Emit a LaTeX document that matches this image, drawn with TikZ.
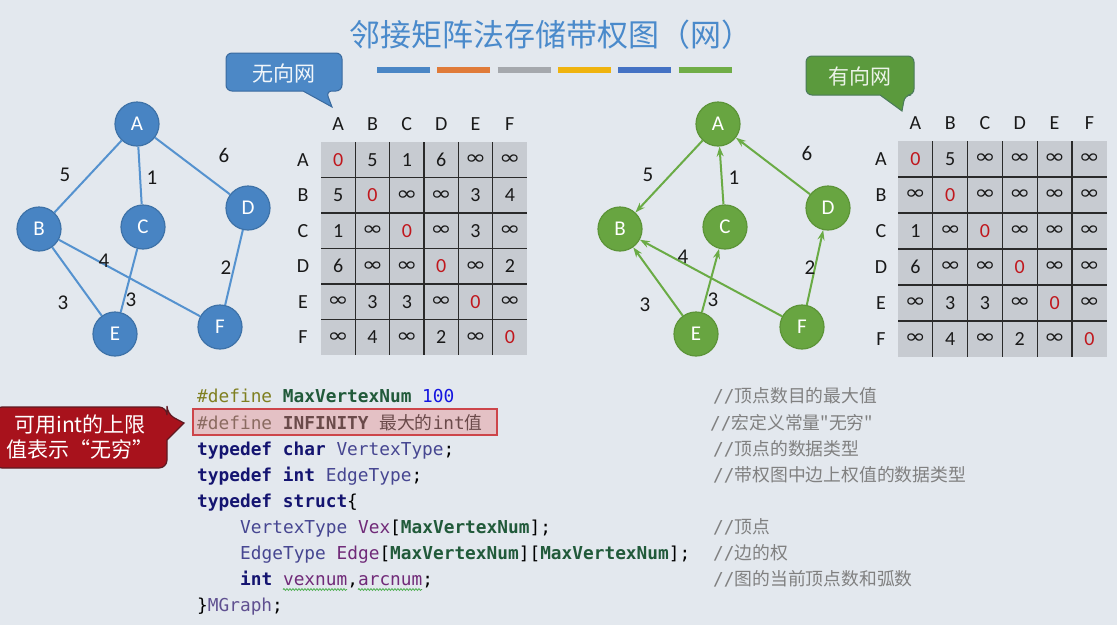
\documentclass[tikz,border=0pt]{standalone}
\usepackage{fontspec}
\usepackage{graphicx}
\setmainfont{Carlito}
\newfontfamily\cjk{Noto Sans CJK SC}
\newfontfamily\mono{DejaVu Sans Mono}
\newfontfamily\symf{DejaVu Sans}
\usetikzlibrary{arrows.meta,decorations.pathmorphing}
\definecolor{bgc}{HTML}{E3E8EE}
\definecolor{ctitle}{HTML}{4A8ACB}
\definecolor{nodeblue}{HTML}{4884C3}
\definecolor{nodeblueb}{HTML}{3E72A8}
\definecolor{edgeblue}{HTML}{5592CF}
\definecolor{nodegreen}{HTML}{68A541}
\definecolor{nodegreenb}{HTML}{5C9438}
\definecolor{edgegreen}{HTML}{6AAB45}
\definecolor{cellgray}{HTML}{C7CBD1}
\definecolor{gridc}{HTML}{2A2A2A}
\definecolor{zred}{HTML}{C0171D}
\definecolor{cbfill}{HTML}{4C88C6}
\definecolor{cbdraw}{HTML}{3A6A9F}
\definecolor{cgfill}{HTML}{5B9A3D}
\definecolor{cgdraw}{HTML}{4A7A5A}
\definecolor{crfill}{HTML}{A8121C}
\definecolor{crdraw}{HTML}{5E1A22}
\definecolor{barA}{HTML}{4A86C5}
\definecolor{barB}{HTML}{E07B39}
\definecolor{barC}{HTML}{A5A8AD}
\definecolor{barD}{HTML}{EFB30F}
\definecolor{barE}{HTML}{4472C4}
\definecolor{barF}{HTML}{70AD47}
\definecolor{cdef}{HTML}{7F7F20}
\definecolor{cdefb}{HTML}{8A6A60}
\definecolor{cinf}{HTML}{6A4A4A}
\definecolor{cmac}{HTML}{215A3A}
\definecolor{cnum}{HTML}{1515E0}
\definecolor{ckw}{HTML}{141470}
\definecolor{ctype}{HTML}{464691}
\definecolor{cvar}{HTML}{702A78}
\definecolor{cmg}{HTML}{5F5090}
\definecolor{ccom}{HTML}{808080}
\definecolor{csq}{HTML}{4CAF50}
\def\MZ{\textcolor{zred}{0}}
\def\MI{\scalebox{1.35}[1.05]{\symf\fontsize{19}{20}\selectfont ∞}}
\begin{document}
\begin{tikzpicture}[x=1pt,y=-1pt,
  gnodeB/.style={circle,minimum size=44pt,inner sep=0pt,fill=nodeblue,draw=nodeblueb,line width=1.2pt,text=white,font=\fontsize{21}{24}\selectfont},
  gnodeG/.style={circle,minimum size=44pt,inner sep=0pt,fill=nodegreen,draw=nodegreenb,line width=1.2pt,text=white,font=\fontsize{21}{24}\selectfont},
  bedge/.style={draw=edgeblue,line width=2pt},
  gedge/.style={draw=edgegreen,line width=2pt,-{Stealth[length=10pt,width=7pt]}},
  wlabel/.style={inner sep=0pt,text=black!90,font=\fontsize{21}{24}\selectfont},
  hdr/.style={inner sep=0pt,text=black!90,font=\fontsize{20}{24}\selectfont},
  cellL/.style={inner sep=0pt,minimum width=34.4pt,minimum height=35.6pt,fill=cellgray,text=black!90,font=\fontsize{20}{24}\selectfont},
  cellR/.style={inner sep=0pt,minimum width=34.9pt,minimum height=36.1pt,fill=cellgray,text=black!90,font=\fontsize{20}{24}\selectfont},
  gridline/.style={draw=gridc,line width=1.2pt},
  codeline/.style={anchor=base west,inner sep=0pt,font=\mono\fontsize{17.8}{20}\selectfont},
  bar/.style={line width=6pt}
]
\useasboundingbox[fill=bgc] (0,0) rectangle (1117,625);

% title and bars
\node[font=\cjk\fontsize{31}{36}\selectfont,text=ctitle] (title) at (551,35) {邻接矩阵法存储带权图（网）};
\foreach \cc [count=\k from 0] in {barA,barB,barC,barD,barE,barF}
  \draw[bar,draw=\cc] ({377+60.3*\k},70) -- ({430+60.3*\k},70);

% callouts
\draw[fill=cbfill,draw=cbdraw,line width=1pt,rounded corners=6pt] (226,72) |- (342,53) |- (326,91) [sharp corners] -- (332,107) -- (303,91) [rounded corners=6pt] -| (226,72) -- cycle;
\node[font=\cjk\fontsize{21}{24}\selectfont,text=white!92!cbfill] (undir) at (284,73) {无向网};
\draw[fill=cgfill,draw=cgdraw,line width=1pt,rounded corners=6pt] (806,76) |- (914,56) |- (905,95) [sharp corners] -- (902,111) -- (880,95) [rounded corners=6pt] -| (806,76) -- cycle;
\node[font=\cjk\fontsize{21}{24}\selectfont,text=white!88!cgfill] (dir) at (860,76) {有向网};

% left graph
\node[gnodeB] (A) at (137,124) {A};
\node[gnodeB] (B) at (39,229) {B};
\node[gnodeB] (C) at (143,227) {C};
\node[gnodeB] (D) at (248,208) {D};
\node[gnodeB] (E) at (115,334) {E};
\node[gnodeB] (F) at (220,327) {F};
\draw[bedge] (A) -- (B);
\draw[bedge] (A) -- (C);
\draw[bedge] (A) -- (D);
\draw[bedge] (B) -- (E);
\draw[bedge] (B) -- (F);
\draw[bedge] (C) -- (E);
\draw[bedge] (D) -- (F);
\node[wlabel] (wab) at (65,175) {5};
\node[wlabel] (wac) at (152,178) {1};
\node[wlabel] (wad) at (224,155) {6};
\node[wlabel] (wbf) at (104,261) {4};
\node[wlabel] (wdf) at (226,268) {2};
\node[wlabel] (wbe) at (63,303) {3};
\node[wlabel] (wce) at (131,300) {3};

% right graph
\node[gnodeG] (A2) at (718,124) {A};
\node[gnodeG] (B2) at (620,229) {B};
\node[gnodeG] (C2) at (725,227) {C};
\node[gnodeG] (D2) at (828,208) {D};
\node[gnodeG] (E2) at (696,334) {E};
\node[gnodeG] (F2) at (802,327) {F};
\draw[gedge] (A2) -- (B2);
\draw[gedge] (C2) -- (A2);
\draw[gedge] (D2) -- (A2);
\draw[gedge] (E2) -- (B2);
\draw[gedge] (E2) -- (C2);
\draw[gedge] (F2) -- (B2);
\draw[gedge] (F2) -- (D2);
\node[wlabel] (vab) at (648,175) {5};
\node[wlabel] (vca) at (734,178) {1};
\node[wlabel] (vda) at (807,153) {6};
\node[wlabel] (vfb) at (683,257) {4};
\node[wlabel] (vfd) at (810,268) {2};
\node[wlabel] (veb) at (645,305) {3};
\node[wlabel] (vec) at (713,300) {3};

% left matrix
\foreach \row [count=\r] in {{\MZ,5,1,6,\MI,\MI},{5,\MZ,\MI,\MI,3,4},{1,\MI,\MZ,\MI,3,\MI},{6,\MI,\MI,\MZ,\MI,2},{\MI,3,3,\MI,\MZ,\MI},{\MI,4,\MI,2,\MI,\MZ}}
  \foreach \v [count=\c] in \row
    \node[cellL] (L-\r-\c) at ({321+34.33*(\c-0.5)},{142+35.5*(\r-0.5)}) {\v};
\foreach \k in {1,...,5} {
  \draw[gridline] ({321+34.33*\k},142) -- ({321+34.33*\k},355);
  \draw[gridline] (321,{142+35.5*\k}) -- (527,{142+35.5*\k});
}
\foreach \h [count=\c] in {A,B,C,D,E,F} {
  \node[hdr] (LH-\c) at ({321+34.33*(\c-0.5)},124) {\h};
  \node[hdr] (LR-\c) at (303,{142+35.5*(\c-0.5)}) {\h};
}

% right matrix
\foreach \row [count=\r] in {{\MZ,5,\MI,\MI,\MI,\MI},{\MI,\MZ,\MI,\MI,\MI,\MI},{1,\MI,\MZ,\MI,\MI,\MI},{6,\MI,\MI,\MZ,\MI,\MI},{\MI,3,3,\MI,\MZ,\MI},{\MI,4,\MI,2,\MI,\MZ}}
  \foreach \v [count=\c] in \row
    \node[cellR] (R-\r-\c) at ({898+34.8*(\c-0.5)},{141+36*(\r-0.5)}) {\v};
\foreach \k in {1,...,5} {
  \draw[gridline] ({898+34.8*\k},141) -- ({898+34.8*\k},357);
  \draw[gridline] (898,{141+36*\k}) -- (1107,{141+36*\k});
}
\foreach \h [count=\c] in {A,B,C,D,E,F} {
  \node[hdr] (RH-\c) at ({898+34.8*(\c-0.5)},123) {\h};
  \node[hdr] (RR-\c) at (881,{141+36*(\c-0.5)}) {\h};
}

% code
\draw[fill=zred!40,fill opacity=0.55,draw=zred!80,line width=1.2pt] (193,409) rectangle (497,435);
\node[codeline] (c1) at (197,402.5) {\textcolor{cdef}{\#define} \textbf{\textcolor{cmac}{MaxVertexNum}} \textcolor{cnum}{100}};
\node[codeline] (c2) at (197,429) {\textcolor{cdefb}{\#define} \textbf{\textcolor{cinf}{INFINITY}} \textcolor{cinf}{{\cjk 最大的}int{\cjk 值}}};
\node[codeline] (c3) at (197,455.5) {\textbf{\textcolor{ckw}{typedef}} \textbf{\textcolor{ckw}{char}} \textcolor{ctype}{VertexType};};
\node[codeline] (c4) at (197,481.5) {\textbf{\textcolor{ckw}{typedef}} \textbf{\textcolor{ckw}{int}} \textcolor{ctype}{EdgeType};};
\node[codeline] (c5) at (197,507.5) {\textbf{\textcolor{ckw}{typedef}} \textbf{\textcolor{ckw}{struct}}\{};
\node[codeline] (c6) at (240,533.5) {\textcolor{ctype}{VertexType} \textcolor{cvar}{Vex}[\textbf{\textcolor{cmac}{MaxVertexNum}}];};
\node[codeline] (c7) at (240,559.5) {\textcolor{ctype}{EdgeType} \textcolor{cvar}{Edge}[\textbf{\textcolor{cmac}{MaxVertexNum}}][\textbf{\textcolor{cmac}{MaxVertexNum}}];};
\node[codeline] (c8) at (240,585.5) {\textbf{\textcolor{ckw}{int}} \textcolor{cvar}{vexnum},\textcolor{cvar}{arcnum};};
\node[codeline] (c9) at (197,611.5) {\}\textcolor{cmg}{MGraph};};
\draw[csq,line width=0.8pt,decorate,decoration={snake,segment length=3pt,amplitude=0.9pt}] (283,589.5) -- (347,589.5);
\draw[csq,line width=0.8pt,decorate,decoration={snake,segment length=3pt,amplitude=0.9pt}] (358,589.5) -- (422,589.5);

% comments
\node[codeline,text=ccom] (m1) at (713,402.5) {//{\cjk 顶点数目的最大值}};
\node[codeline,text=ccom] (m2) at (710,429) {//{\cjk 宏定义常量"无穷"}};
\node[codeline,text=ccom] (m3) at (713,455.5) {//{\cjk 顶点的数据类型}};
\node[codeline,text=ccom] (m4) at (713,481.5) {//{\cjk 带权图中边上权值的数据类型}};
\node[codeline,text=ccom] (m6) at (713,533.5) {//{\cjk 顶点}};
\node[codeline,text=ccom] (m7) at (713,559.5) {//{\cjk 边的权}};
\node[codeline,text=ccom] (m8) at (713,585.5) {//{\cjk 图的当前顶点数和弧数}};

% red note callout
\draw[fill=crfill,draw=crdraw,line width=1.2pt,rounded corners=8pt] (-6,407) -| (167,414) [sharp corners] -- (184,423) -- (167,440) [rounded corners=8pt] |- (-6,468) -- cycle;
\node[align=center,text=white,font=\cjk\fontsize{21}{25}\selectfont] (note) at (80,437) {可用int的上限\\值表示“无穷”};
\end{tikzpicture}
\end{document}
